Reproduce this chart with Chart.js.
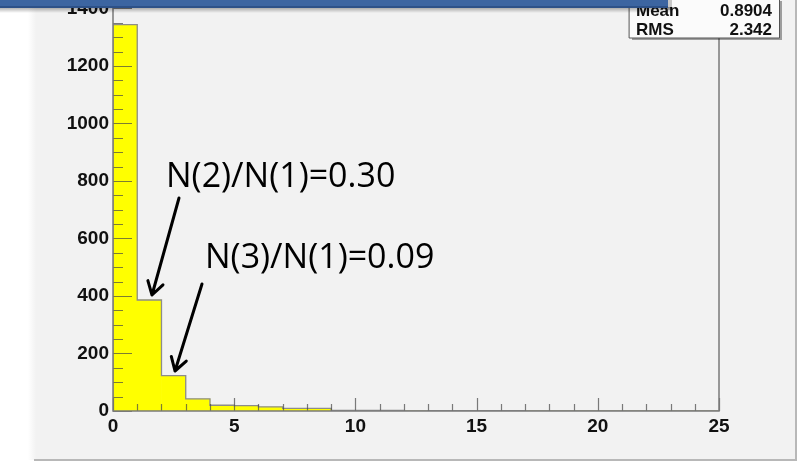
<!DOCTYPE html>
<html>
<head>
<meta charset="utf-8">
<script src="https://cdn.jsdelivr.net/npm/chart.js@4/dist/chart.umd.min.js"></script>
<style>
  html, body { margin: 0; padding: 0; background: #fff; }
  #wrap { width: 798px; height: 462px; }
</style>
</head>
<body>
<div id="wrap"><canvas id="hist" width="798" height="462"></canvas></div>
<script>
// bin low edges (width 1) and counts
const binEdges = [0, 1, 2, 3, 4, 5, 6, 7, 8, 9, 10, 11, 12, 13, 14, 15, 16, 17, 18, 19, 20, 21, 22, 23, 24, 25];
const counts = [1344, 386, 123, 42, 20, 19, 14, 9, 9, 2, 2, 2, 0, 1, 1, 1, 1, 0, 0, 0, 0, 0, 0, 0, 0];
const xTicks = [0, 5, 10, 15, 20, 25];
const yTicks = [0, 200, 400, 600, 800, 1000, 1200, 1400];
const statNames = ['Mean', 'RMS'];
const statValues = ['0.8904', '2.342'];
const notes = ['N(2)/N(1)=0.30', 'N(3)/N(1)=0.09'];

const barPoints = counts.map((c, i) => ({ x: binEdges[i] + 0.5, y: c }));
const outline = [{ x: binEdges[0], y: 0 }]
    .concat(counts.map((c, i) => ({ x: binEdges[i], y: c })))
    .concat([{ x: binEdges[binEdges.length - 1], y: 0 }]);

const axisFont = { family: "'Liberation Sans', Arial, sans-serif", size: 19, weight: 'bold' };

// pad background like the ROOT canvas
const padBackground = {
    id: 'padBackground',
    beforeDraw(chart) {
        const ctx = chart.ctx;
        ctx.save();
        ctx.fillStyle = '#ffffff';
        ctx.fillRect(0, 0, chart.width, chart.height);
        const g = ctx.createLinearGradient(28, 0, 36, 0);
        g.addColorStop(0, '#ffffff');
        g.addColorStop(1, '#f2f2f2');
        ctx.fillStyle = g;
        ctx.fillRect(28, 0, 8, 460);
        ctx.fillStyle = '#f2f2f2';
        ctx.fillRect(36, 0, 759, 460);
        ctx.strokeStyle = '#b8b8b8';
        ctx.lineWidth = 2;
        ctx.beginPath();
        ctx.moveTo(34, 460);
        ctx.lineTo(796, 460);
        ctx.lineTo(796, 0);
        ctx.stroke();
        ctx.restore();
    }
};

// inward ticks + frame, drawn from the scales
const frameTicks = {
    id: 'frameTicks',
    afterDatasetsDraw(chart) {
        const ctx = chart.ctx;
        const a = chart.chartArea;
        const xs = chart.scales.x, ys = chart.scales.y;
        ctx.save();
        ctx.strokeStyle = 'rgba(70,70,70,0.7)';
        ctx.lineWidth = 1.2;
        ctx.beginPath();
        for (let v = 0; v <= 1400; v += 50) {
            const y = Math.round(ys.getPixelForValue(v)) + 0.5;
            const len = v % 200 === 0 ? 19 : 10;
            ctx.moveTo(a.left, y);
            ctx.lineTo(a.left + len, y);
        }
        for (let v = 0; v <= 25; v += 1) {
            const x = Math.round(xs.getPixelForValue(v)) + 0.5;
            const len = v % 5 === 0 ? 13 : 7;
            ctx.moveTo(x, a.bottom);
            ctx.lineTo(x, a.bottom - len);
        }
        ctx.stroke();
        ctx.strokeStyle = '#7a7a7a';
        ctx.lineWidth = 1.5;
        ctx.strokeRect(a.left, a.top, a.right - a.left, a.bottom - a.top);
        ctx.restore();
    }
};

function arrow(ctx, x1, y1, x2, y2) {
    const ang = Math.atan2(y2 - y1, x2 - x1);
    const head = 15, spread = 0.55;
    ctx.beginPath();
    ctx.moveTo(x1, y1);
    ctx.lineTo(x2, y2);
    ctx.moveTo(x2 - head * Math.cos(ang - spread), y2 - head * Math.sin(ang - spread));
    ctx.lineTo(x2, y2);
    ctx.lineTo(x2 - head * Math.cos(ang + spread), y2 - head * Math.sin(ang + spread));
    ctx.stroke();
}

const overlays = {
    id: 'overlays',
    afterDraw(chart) {
        const ctx = chart.ctx;
        ctx.save();
        // annotations
        ctx.fillStyle = '#000';
        ctx.font = "34px 'Open Sans', 'Noto Sans', sans-serif";
        ctx.textBaseline = 'alphabetic';
        ctx.fillText(notes[0], 166, 187);
        ctx.fillText(notes[1], 205, 268);
        ctx.strokeStyle = '#000';
        ctx.lineWidth = 3;
        ctx.lineCap = 'round';
        ctx.lineJoin = 'round';
        arrow(ctx, 179, 198, 152, 295);
        arrow(ctx, 202, 284, 175, 371);

        // stats box
        ctx.fillStyle = 'rgba(0,0,0,0.35)';
        ctx.fillRect(632, 1, 150, 39);
        ctx.fillStyle = '#fbfbfb';
        ctx.fillRect(629, -2, 151, 40);
        ctx.strokeStyle = '#555';
        ctx.lineWidth = 1;
        ctx.strokeRect(629.5, -2, 150, 40);
        ctx.fillStyle = '#111';
        ctx.font = "bold 17px 'Liberation Sans', Arial, sans-serif";
        statNames.forEach((n, i) => {
            const by = 16 + i * 19;
            ctx.textAlign = 'left';
            ctx.fillText(n, 636, by);
            ctx.textAlign = 'right';
            ctx.fillText(statValues[i], 772, by);
        });

        // title banner
        const sg = ctx.createLinearGradient(0, 7, 0, 13);
        sg.addColorStop(0, 'rgba(0,0,0,0.35)');
        sg.addColorStop(1, 'rgba(0,0,0,0)');
        ctx.fillStyle = sg;
        ctx.fillRect(0, 7, 672, 6);
        ctx.fillStyle = 'rgba(0,0,0,0.2)';
        ctx.fillRect(668, 0, 4, 10);
        ctx.fillStyle = '#3c65a1';
        ctx.fillRect(0, 0, 668, 8);
        ctx.fillStyle = '#2d5188';
        ctx.fillRect(0, 6, 668, 2);
        ctx.restore();
    }
};

new Chart(document.getElementById('hist'), {
    type: 'bar',
    data: {
        datasets: [
            {
                type: 'line',
                data: outline,
                stepped: 'before',
                borderColor: '#8c8c8c',
                borderWidth: 1.3,
                pointRadius: 0,
                fill: false,
                order: 0
            },
            {
                type: 'bar',
                data: barPoints,
                backgroundColor: '#ffff00',
                borderWidth: 0,
                barPercentage: 1,
                categoryPercentage: 1,
                order: 1
            }
        ]
    },
    options: {
        responsive: false,
        animation: false,
        layout: { padding: { top: 5, left: 38, right: 79, bottom: 0 } },
        plugins: { legend: { display: false }, tooltip: { enabled: false } },
        scales: {
            x: {
                type: 'linear',
                min: 0,
                max: 25,
                offset: false,
                grid: { display: false, drawTicks: false },
                border: { display: false },
                afterBuildTicks: s => { s.ticks = xTicks.map(v => ({ value: v })); },
                ticks: { font: axisFont, color: '#111', padding: 4, maxRotation: 0, callback: v => String(v) },
                afterFit: s => { s.height = 51; s.paddingLeft = 0; s.paddingRight = 0; }
            },
            y: {
                min: 0,
                max: 1412,
                grid: { display: false, drawTicks: false },
                border: { display: false },
                afterBuildTicks: s => { s.ticks = yTicks.map(v => ({ value: v })); },
                ticks: { font: axisFont, color: '#111', padding: 4, callback: v => String(v) },
                afterFit: s => { s.width = 75; s.paddingTop = 0; s.paddingBottom = 0; }
            }
        }
    },
    plugins: [padBackground, frameTicks, overlays]
});
</script>
</body>
</html>
